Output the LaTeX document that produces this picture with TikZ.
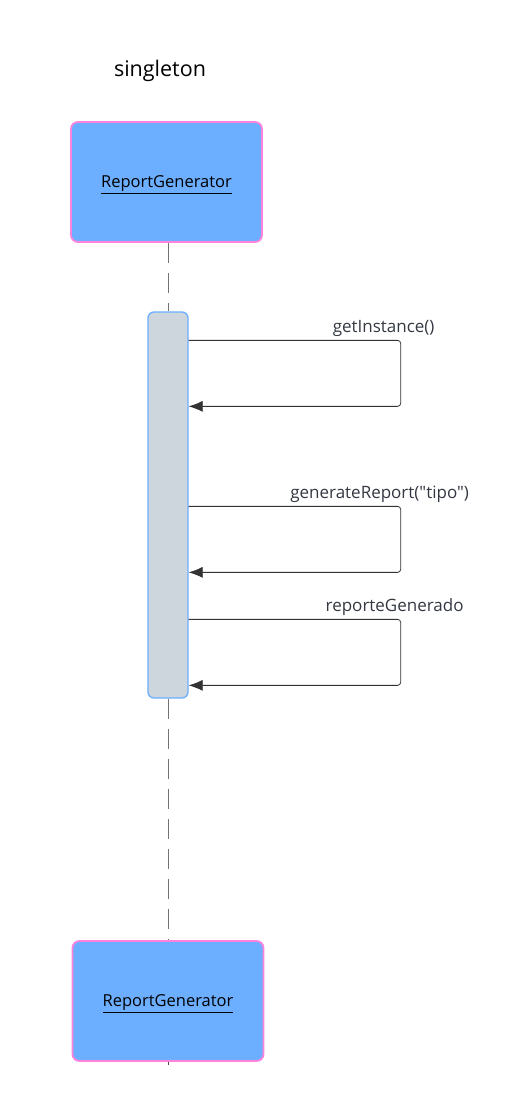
\documentclass[tikz,border=0pt]{standalone}
\usepackage{fontspec}
\setmainfont{Open Sans}[Ligatures=TeXOff]
\usetikzlibrary{arrows.meta,positioning,calc}
\definecolor{boxblue}{RGB}{108,174,255}
\definecolor{boxpink}{RGB}{255,130,220}
\definecolor{actgray}{RGB}{205,213,221}
\definecolor{msgtext}{RGB}{51,56,66}

\tikzset{
  lifebox/.style={draw=boxpink,line width=1.8pt,rounded corners=7pt,fill=boxblue,
    minimum width=191pt,minimum height=120pt,text depth=0pt,
    font=\fontsize{16.5}{19}\selectfont},
  actbar/.style={draw=boxblue,line width=1.3pt,rounded corners=6pt,fill=actgray,
    minimum width=40pt,minimum height=386pt},
  lifeline/.style={draw=black!55,line width=1pt,dash pattern=on 20pt off 10pt},
  selfmsg/.style={draw=black!80,line width=0.8pt,rounded corners=3pt,
    -{Latex[length=14pt,width=11pt]}},
  msglabel/.style={font=\fontsize{17}{20}\selectfont\color{msgtext}}
}

\begin{document}
\begin{tikzpicture}[x=1pt,y=-1pt]
  \useasboundingbox (0,0) rectangle (507,1103);

  % title
  \node (title) at (160,71) {\fontsize{21.5}{26}\selectfont singleton};

  % lifeline heads
  \node[lifebox] (top) at (166.5,182) {\underline{ReportGenerator}};
  \node[lifebox] (bot) at (168,1001) {\underline{ReportGenerator}};

  % activation
  \node[actbar] (act) at (168,505) {};

  % lifeline
  \draw[lifeline] (top.south -| act.north) -- (act.north);
  \draw[lifeline] (act.south) -- (bot.north -| act.south);
  \draw[black!70,line width=1pt] (bot.south -| act.south) -- ++(0,3);

  % self calls
  \coordinate (r1) at ($(act.north east)+(212,29)$);
  \coordinate (r2) at ($(act.north east)+(212,195)$);
  \coordinate (r3) at ($(act.north east)+(212,308)$);

  \draw[selfmsg] ([yshift=-29pt]act.north east) -- (r1) -- ++(0,66)
    -- ([yshift=-95pt]act.north east);
  \node[msglabel,anchor=base] (l1) at ($(r1)+(-17,-8)$) {getInstance()};

  \draw[selfmsg] ([yshift=-195pt]act.north east) -- (r2) -- ++(0,66)
    -- ([yshift=-261pt]act.north east);
  \node[msglabel,anchor=base] (l2) at ($(r2)+(-21,-8)$) {generateReport("tipo")};

  \draw[selfmsg] ([yshift=-308pt]act.north east) -- (r3) -- ++(0,66)
    -- ([yshift=-374pt]act.north east);
  \node[msglabel,anchor=base] (l3) at ($(r3)+(-6,-8)$) {reporteGenerado};
\end{tikzpicture}
\end{document}
